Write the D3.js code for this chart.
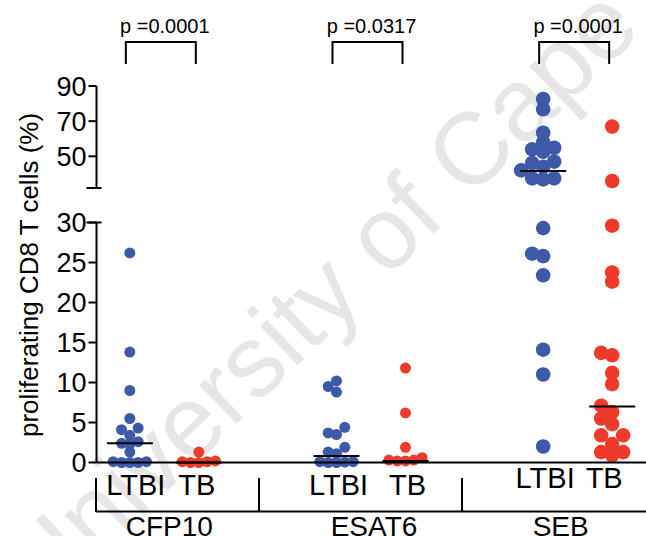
<!DOCTYPE html>
<html>
<head>
<meta charset="utf-8">
<script src="https://cdn.jsdelivr.net/npm/d3@7"></script>
<style>
  body { margin: 0; background: #fff; }
  svg { display: block; font-family: "Liberation Sans", Arial, sans-serif; }
</style>
</head>
<body>
<div id="chart"></div>
<script>
const antigens = ["CFP10", "ESAT6", "SEB"];
const groups = ["LTBI", "TB"];
const pValues = ["0.0001", "0.0317", "0.0001"];

// % proliferating CD8 T cells, one array per column
const cfp10LTBI = [26.2, 13.8, 9.0, 5.5, 4.3, 4.1, 3.4, 2.6, 2.4, 2.3, 1.3, 0.1, 0.1, 0, 0, 0];
const cfp10TB = [1.3, 0.2, 0.1, 0.1, 0, 0];
const esat6LTBI = [10.2, 9.5, 8.8, 4.4, 3.7, 3.5, 1.9, 1.3, 1.1, 0.1, 0.1, 0.05, 0, 0];
const esat6TB = [11.8, 6.2, 1.9, 0.6, 0.3, 0.3, 0.2, 0.2];
const sebLTBI = [82.6, 76.8, 63.4, 58, 54.9, 54, 52.6, 47, 46.2, 44, 42, 37.5, 37.5, 36.9, 29.3, 26.1, 25.8, 23.4, 14.1, 11.0, 2.0];
const sebTB = [66.9, 36, 29.6, 23.75, 22.6, 13.7, 13.4, 11.2, 9.8, 7.1, 6.3, 5.5, 4.8, 3.4, 3.4, 2.3, 1.3, 1.3, 0.9];
const medianLTBI = [2.4, 0.8, 41.7];
const medianTB = [0, 0.2, 7.0];

const lowerTicks = [0, 5, 10, 15, 20, 25, 30];
const upperTicks = [50, 70, 90];

const columns = [[cfp10LTBI, cfp10TB], [esat6LTBI, esat6TB], [sebLTBI, sebTB]];
const medians = [medianLTBI, medianTB];

const width = 646, height = 536;
const axisX = 96.5;
const blue = "#3d59a8", red = "#ee3a2a";

const svg = d3.select("#chart").append("svg")
  .attr("width", width)
  .attr("height", height);

// watermark
svg.append("text")
  .attr("transform", "translate(44,610) rotate(-44)")
  .attr("font-size", 102)
  .attr("fill", "#e6e6e6")
  .text("University of Cape Town");

const x = d3.scaleBand().domain(antigens).range([61, 681]);
const xg = d3.scalePoint().domain(groups).range([-34.5, 34.5]);
const colX = (a, g) => x(a) + x.bandwidth() / 2 + xg(g);

const yLow = d3.scaleLinear().domain([0, 30]).range([462.5, 222.5]);
const yUp = d3.scaleLinear().domain([32, 90]).range([188, 86]);
const yPos = v => v <= 30 ? yLow(v) : yUp(v);

// column scatter: fill slots 0, -1, +1, -2, +2 ... from the bottom up
function dodge(values, minDy) {
  const placed = [];
  const pts = values.map(v => ({ v, y: yPos(v) })).sort((a, b) => b.y - a.y);
  for (const p of pts) {
    for (let k = 0; ; k++) {
      const slot = k === 0 ? 0 : (k % 2 ? -(k + 1) / 2 : k / 2);
      if (placed.every(q => q.slot !== slot || Math.abs(q.y - p.y) >= minDy)) {
        p.slot = slot;
        break;
      }
    }
    placed.push(p);
  }
  return placed;
}

const dotR = [5.5, 5.5, 7.3];
const dotStep = [8.3, 8.3, 11];
const dotGap = [7.5, 7.5, 9];

antigens.forEach((a, i) => {
  groups.forEach((g, j) => {
    const cx = colX(a, g);
    const pts = dodge(columns[i][j], dotGap[i]);
    svg.append("g").selectAll("circle")
      .data(pts)
      .enter()
      .append("circle")
      .attr("cx", d => cx + d.slot * dotStep[i])
      .attr("cy", d => d.y)
      .attr("r", dotR[i])
      .attr("fill", j === 0 ? blue : red);

    svg.append("line")
      .attr("x1", cx - 23).attr("x2", cx + 23)
      .attr("y1", yPos(medians[j][i])).attr("y2", yPos(medians[j][i]))
      .attr("stroke", "#000").attr("stroke-width", 2);
  });
});

// y axis, two segments
const axisG = svg.append("g").attr("stroke", "#000").attr("stroke-width", 2);
axisG.append("line").attr("x1", axisX).attr("x2", axisX).attr("y1", yLow(30)).attr("y2", yLow(0));
axisG.append("line").attr("x1", axisX).attr("x2", axisX).attr("y1", yUp(90)).attr("y2", yUp(32));
axisG.selectAll(".tl").data(lowerTicks).enter().append("line")
  .attr("x1", axisX - 8).attr("x2", axisX).attr("y1", d => yLow(d)).attr("y2", d => yLow(d));
axisG.selectAll(".tu").data(upperTicks).enter().append("line")
  .attr("x1", axisX - 8).attr("x2", axisX).attr("y1", d => yUp(d)).attr("y2", d => yUp(d));
// break caps
[yLow(30), yUp(32)].forEach(yy => {
  axisG.append("line").attr("x1", axisX - 10).attr("x2", axisX + 5).attr("y1", yy).attr("y2", yy);
});

svg.append("g").selectAll("text")
  .data(lowerTicks.map(t => [t, yLow(t)]).concat(upperTicks.map(t => [t, yUp(t)])))
  .enter().append("text")
  .attr("x", axisX - 10)
  .attr("y", d => d[1])
  .attr("dy", "0.36em")
  .attr("text-anchor", "end")
  .attr("font-size", 27)
  .text(d => d[0]);

svg.append("text")
  .attr("transform", "translate(38,275) rotate(-90)")
  .attr("text-anchor", "middle")
  .attr("font-size", 26)
  .text("proliferating CD8 T cells (%)");

// x axis
axisG.append("line").attr("x1", axisX).attr("x2", width).attr("y1", yLow(0)).attr("y2", yLow(0));

// bottom grouping axis
const sepX = [96, 259, 462];
axisG.append("line").attr("x1", sepX[0]).attr("x2", width).attr("y1", 511.5).attr("y2", 511.5);
sepX.forEach(sx => {
  axisG.append("line").attr("x1", sx).attr("x2", sx).attr("y1", 478).attr("y2", 512);
});

const labelDx = [[6, -2], [2, 2], [2, -8]];
const labelY = [495, 495, 488];
const nameDx = [5, 3, -17];
antigens.forEach((a, i) => {
  groups.forEach((g, j) => {
    svg.append("text")
      .attr("x", colX(a, g) + labelDx[i][j])
      .attr("y", labelY[i])
      .attr("text-anchor", "middle")
      .attr("font-size", 29)
      .text(g);
  });
  svg.append("text")
    .attr("x", x(a) + x.bandwidth() / 2 + nameDx[i])
    .attr("y", 536)
    .attr("text-anchor", "middle")
    .attr("font-size", 28)
    .text(a);

  // p value bracket
  const bx0 = colX(a, "LTBI") - 4, bx1 = colX(a, "TB") - 3;
  svg.append("path")
    .attr("d", `M${bx0},64V42H${bx1}V64`)
    .attr("fill", "none")
    .attr("stroke", "#000")
    .attr("stroke-width", 2);
  svg.append("text")
    .attr("x", (bx0 + bx1) / 2 + 4)
    .attr("y", 33)
    .attr("text-anchor", "middle")
    .attr("font-size", 20)
    .text("p =" + pValues[i]);
});
</script>
</body>
</html>
